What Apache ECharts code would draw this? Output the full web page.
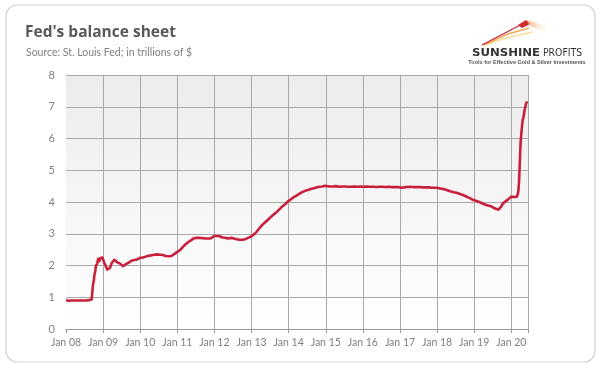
<!DOCTYPE html>
<html>
<head>
<meta charset="utf-8">
<script src="https://cdn.jsdelivr.net/npm/echarts@6/dist/echarts.min.js"></script>
<style>html,body{margin:0;padding:0;background:#fff;}#c{width:600px;height:366px;}</style>
</head>
<body>
<div id="c"></div>
<script>
const titleText = "Fed's balance sheet";
const subtitleText = "Source: St. Louis Fed; in trillions of $";
const yTicks = [0, 1, 2, 3, 4, 5, 6, 7, 8];
const xTickYears = [2008, 2009, 2010, 2011, 2012, 2013, 2014, 2015, 2016, 2017, 2018, 2019, 2020];

const dates = [
'2008-01-02','2008-01-16','2008-01-30','2008-02-13','2008-02-27','2008-03-12','2008-03-26','2008-04-09','2008-04-23','2008-05-07','2008-05-21','2008-06-04','2008-06-18','2008-07-02','2008-07-16','2008-07-30','2008-08-13','2008-08-27','2008-09-10','2008-09-17','2008-09-24','2008-10-01','2008-10-08','2008-10-15','2008-10-22','2008-10-29','2008-11-05','2008-11-12','2008-11-19','2008-11-26','2008-12-03','2008-12-10','2008-12-17','2008-12-24','2008-12-31',
'2009-01-14','2009-01-28','2009-02-11','2009-02-25','2009-03-11','2009-03-25','2009-04-08','2009-04-22','2009-05-06','2009-05-20','2009-06-03','2009-06-17','2009-07-01','2009-07-15','2009-07-29','2009-08-12','2009-08-26','2009-09-09','2009-09-23','2009-10-07','2009-10-21','2009-11-04','2009-11-18','2009-12-02','2009-12-16','2009-12-30',
'2010-01-13','2010-01-27','2010-02-10','2010-02-24','2010-03-10','2010-03-24','2010-04-07','2010-04-21','2010-05-05','2010-05-19','2010-06-02','2010-06-16','2010-06-30','2010-07-14','2010-07-28','2010-08-11','2010-08-25','2010-09-08','2010-09-22','2010-10-06','2010-10-20','2010-11-03','2010-11-17','2010-12-01','2010-12-15','2010-12-29',
'2011-01-12','2011-01-26','2011-02-09','2011-02-23','2011-03-09','2011-03-23','2011-04-06','2011-04-20','2011-05-04','2011-05-18','2011-06-01','2011-06-15','2011-06-29','2011-07-13','2011-07-27','2011-08-10','2011-08-24','2011-09-07','2011-09-21','2011-10-05','2011-10-19','2011-11-02','2011-11-16','2011-11-30','2011-12-14','2011-12-28',
'2012-01-11','2012-01-25','2012-02-08','2012-02-22','2012-03-07','2012-03-21','2012-04-04','2012-04-18','2012-05-02','2012-05-16','2012-05-30','2012-06-13','2012-06-27','2012-07-11','2012-07-25','2012-08-08','2012-08-22','2012-09-05','2012-09-19','2012-10-03','2012-10-17','2012-10-31','2012-11-14','2012-11-28','2012-12-12','2012-12-26',
'2013-01-09','2013-01-23','2013-02-06','2013-02-20','2013-03-06','2013-03-20','2013-04-03','2013-04-17','2013-05-01','2013-05-15','2013-05-29','2013-06-12','2013-06-26','2013-07-10','2013-07-24','2013-08-07','2013-08-21','2013-09-04','2013-09-18','2013-10-02','2013-10-16','2013-10-30','2013-11-13','2013-11-27','2013-12-11','2013-12-25',
'2014-01-08','2014-01-22','2014-02-05','2014-02-19','2014-03-05','2014-03-19','2014-04-02','2014-04-16','2014-04-30','2014-05-14','2014-05-28','2014-06-11','2014-06-25','2014-07-09','2014-07-23','2014-08-06','2014-08-20','2014-09-03','2014-09-17','2014-10-01','2014-10-15','2014-10-29','2014-11-12','2014-11-26','2014-12-10','2014-12-24',
'2015-01-14','2015-02-11','2015-03-11','2015-04-08','2015-05-13','2015-06-10','2015-07-15','2015-08-12','2015-09-09','2015-10-14','2015-11-11','2015-12-09',
'2016-01-13','2016-02-10','2016-03-09','2016-04-13','2016-05-11','2016-06-08','2016-07-13','2016-08-10','2016-09-14','2016-10-12','2016-11-09','2016-12-14',
'2017-01-11','2017-02-08','2017-03-08','2017-04-12','2017-05-10','2017-06-14','2017-07-12','2017-08-09','2017-09-13','2017-10-11','2017-11-08','2017-12-13',
'2018-01-10','2018-02-14','2018-03-14','2018-04-11','2018-05-09','2018-06-13','2018-07-11','2018-08-08','2018-09-12','2018-10-10','2018-11-14','2018-12-12',
'2019-01-09','2019-02-13','2019-03-13','2019-04-10','2019-05-08','2019-06-12','2019-07-10','2019-08-07','2019-08-28','2019-09-11','2019-09-25','2019-10-09','2019-10-23','2019-11-06','2019-11-20','2019-12-04','2019-12-18','2019-12-31',
'2020-01-15','2020-01-29','2020-02-12','2020-02-26','2020-03-04','2020-03-11','2020-03-18','2020-03-25','2020-04-01','2020-04-08','2020-04-15','2020-04-22','2020-04-29','2020-05-06','2020-05-13','2020-05-20','2020-05-27','2020-06-03'
];

const values = [
0.91,0.90,0.89,0.89,0.90,0.89,0.90,0.89,0.90,0.89,0.90,0.90,0.90,0.91,0.90,0.91,0.91,0.91,0.93,1.18,1.42,1.51,1.72,1.80,1.99,1.97,2.07,2.21,2.19,2.14,2.23,2.25,2.27,2.25,2.24,
2.07,1.98,1.87,1.86,1.93,2.07,2.12,2.18,2.16,2.10,2.08,2.06,2.03,1.98,2.01,2.04,2.06,2.09,2.13,2.15,2.13,2.17,2.16,2.19,2.21,2.24,
2.22,2.25,2.26,2.28,2.29,2.31,2.31,2.32,2.33,2.34,2.35,2.35,2.34,2.34,2.34,2.33,2.32,2.30,2.30,2.29,2.29,2.30,2.31,2.36,2.40,2.42,
2.44,2.48,2.53,2.58,2.63,2.67,2.70,2.74,2.77,2.80,2.83,2.86,2.87,2.87,2.86,2.87,2.86,2.86,2.86,2.85,2.85,2.85,2.85,2.86,2.88,2.93,
2.92,2.93,2.90,2.92,2.89,2.88,2.87,2.87,2.86,2.85,2.86,2.87,2.86,2.85,2.84,2.83,2.82,2.81,2.81,2.81,2.82,2.83,2.85,2.87,2.89,2.91,
2.94,2.98,3.01,3.06,3.12,3.18,3.24,3.28,3.32,3.36,3.39,3.44,3.49,3.53,3.57,3.61,3.65,3.68,3.73,3.77,3.82,3.86,3.90,3.93,3.98,4.02,
4.05,4.08,4.11,4.15,4.17,4.20,4.23,4.26,4.28,4.31,4.33,4.35,4.37,4.38,4.40,4.41,4.42,4.43,4.44,4.46,4.47,4.48,4.49,4.49,4.50,4.51,
4.50,4.49,4.49,4.50,4.48,4.49,4.49,4.48,4.48,4.49,4.48,4.49,
4.48,4.49,4.48,4.48,4.47,4.48,4.48,4.47,4.48,4.47,4.47,4.47,
4.45,4.46,4.47,4.48,4.47,4.47,4.47,4.46,4.46,4.46,4.45,4.45,
4.44,4.42,4.40,4.37,4.34,4.31,4.29,4.26,4.22,4.18,4.13,4.08,
4.05,4.01,3.97,3.93,3.90,3.87,3.82,3.78,3.76,3.77,3.86,3.95,3.98,4.02,4.06,4.09,4.13,4.17,
4.17,4.16,4.18,4.17,4.24,4.36,4.67,5.25,5.82,6.13,6.37,6.57,6.66,6.72,6.93,7.03,7.10,7.17
];

const logoName = 'SUNSHINE';
const logoName2 = 'PROFITS';
const logoTagline = 'Tools for Effective Gold & Silver Investments';

function toYear(s) {
  const d = new Date(s + 'T00:00:00Z');
  const y = d.getUTCFullYear();
  const start = Date.UTC(y, 0, 1), end = Date.UTC(y + 1, 0, 1);
  return y + (d.getTime() - start) / (end - start);
}
const seriesData = dates.map((d, i) => [toYear(d), values[i]]);

const chart = echarts.init(document.getElementById('c'), null, {renderer: 'canvas'});
const gridColor = '#a9a9a9';
const splitColors = [];
for (let i = 0; i < xTickYears.length + 1; i++) splitColors.push(i === 0 ? 'rgba(0,0,0,0)' : gridColor);

chart.setOption({
  animation: false,
  backgroundColor: '#ffffff',
  grid: {
    left: 66, right: 72, top: 75, bottom: 37,
    show: true, borderWidth: 0,
    backgroundColor: new echarts.graphic.LinearGradient(0, 0, 0, 1, [
      {offset: 0, color: '#ececec'}, {offset: 1, color: '#ffffff'}
    ])
  },
  xAxis: {
    type: 'value',
    min: xTickYears[0], max: 2020.45, interval: 1,
    axisLine: {show: true, lineStyle: {color: '#9a9a9a', width: 1}},
    axisTick: {show: true, length: 4, lineStyle: {color: '#9a9a9a'}},
    splitLine: {show: true, lineStyle: {color: splitColors, width: 1}},
    axisLabel: {
      color: '#808080', fontSize: 10.5, fontFamily: 'Lato', margin: 8,
      formatter: v => (xTickYears.indexOf(v) >= 0 ? 'Jan ' + String(v).slice(2) : '')
    }
  },
  yAxis: {
    type: 'value',
    min: yTicks[0], max: yTicks[yTicks.length - 1], interval: 1,
    axisLine: {show: false}, axisTick: {show: false},
    splitLine: {show: true, lineStyle: {color: gridColor, width: 1}},
    axisLabel: {color: '#808080', fontSize: 11, fontFamily: 'Lato', margin: 11}
  },
  series: [{
    type: 'line',
    data: seriesData,
    showSymbol: false,
    symbol: 'none',
    lineStyle: {color: '#c8203c', width: 2.6, join: 'round'},
    z: 5
  }],
  graphic: [
    {type: 'rect', shape: {x: 6, y: 5, width: 589, height: 357, r: 11},
     style: {fill: 'none', stroke: '#d4d4d4', lineWidth: 1.2}, z: -10, silent: true},
    {type: 'text', x: 25, y: 33, style: {text: titleText, font: 'bold 15.5px "Open Sans"', fill: '#595959', verticalAlign: 'middle'}},
    {type: 'text', x: 26, y: 53, style: {text: subtitleText, font: '10.5px Lato', fill: '#808080', verticalAlign: 'middle'}},
    // logo swoosh
    {type: 'polyline', shape: {points: [[484, 45], [510, 37], [532, 32]]}, style: {stroke: '#f5d88a', lineWidth: 1.4, fill: 'none', opacity: 0.85}},
    {type: 'polyline', shape: {points: [[484, 45], [508, 34], [529, 28]]}, style: {stroke: '#f0a441', lineWidth: 1.4, fill: 'none', opacity: 0.9}},
    {type: 'polyline', shape: {points: [[482, 45], [505, 33], [524, 23]]}, style: {stroke: '#c8203c', lineWidth: 1.3, fill: 'none'}},
    {type: 'polygon', shape: {points: [[518, 25], [526, 20], [530, 24], [522, 28]]}, style: {fill: '#cf2a2f'}},
    {type: 'polygon', shape: {points: [[526, 20], [548, 26], [546, 32], [530, 26]]},
     style: {fill: new echarts.graphic.LinearGradient(0, 0, 1, 0, [{offset: 0, color: 'rgba(235,140,70,0.7)'}, {offset: 1, color: 'rgba(250,225,170,0)'}])}},
    {type: 'text', x: 472, y: 53, scaleX: 1.17, style: {text: logoName, font: 'bold 10px "DejaVu Sans"', fill: '#333333', verticalAlign: 'middle'}},
    {type: 'text', x: 543, y: 53, scaleX: 0.93, style: {text: logoName2, font: '10px "DejaVu Sans"', fill: '#333333', verticalAlign: 'middle'}},
    {type: 'text', x: 527, y: 62, style: {text: logoTagline, font: 'bold 5.5px "Liberation Sans"', fill: '#555', align: 'center', verticalAlign: 'middle'}}
  ]
});
</script>
</body>
</html>
